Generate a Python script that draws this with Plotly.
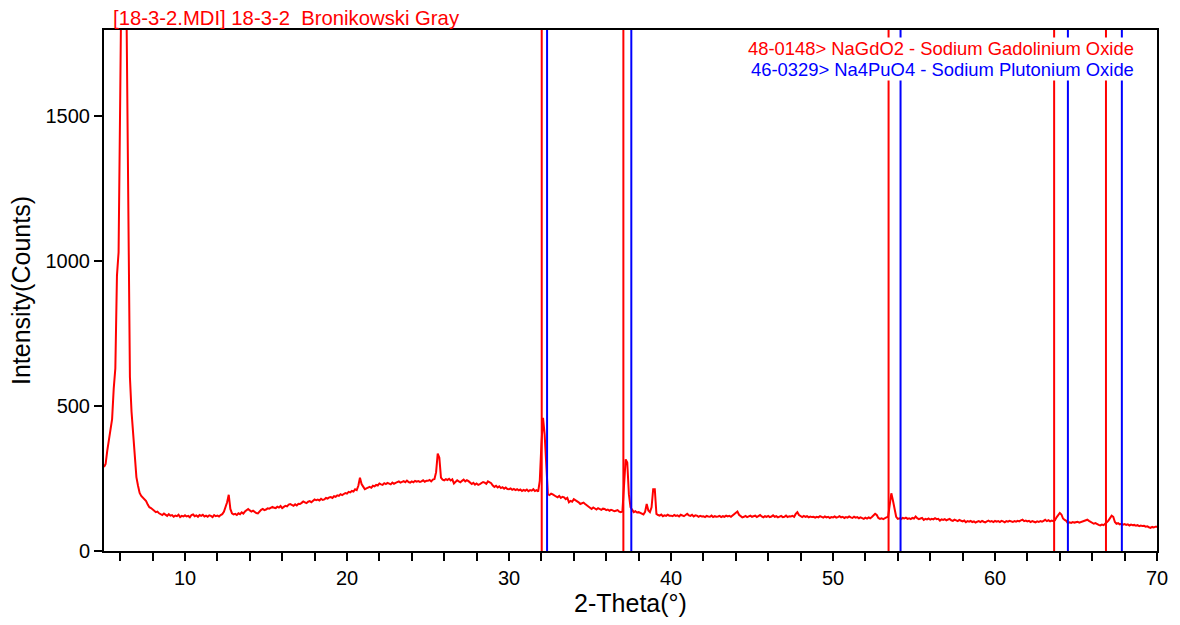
import numpy as np
import plotly.graph_objects as go

# Scan grid: 2-theta from 5.0 to 70.0 in 0.1 degree steps
two_theta_start = 5.0
two_theta_step = 0.1

# Intensity values, one row per degree (x.0 ... x.9)
counts = [
    290, 300, 345, 385, 410, 455, 560, 630, 950, 1030,      # 5
    1560, 2500, 2700, 2500, 1800, 1250, 600, 480, 400, 300,  # 6
    255, 225, 200, 190, 185, 178, 172, 160, 151, 148,        # 7
    142, 139, 134, 136, 130, 128, 124, 129, 126, 121,        # 8
    127, 122, 124, 118, 122, 120, 125, 117, 121, 119,        # 9
    123, 119, 121, 116, 124, 126, 120, 123, 118, 124,        # 10
    121, 125, 119, 122, 118, 123, 121, 117, 124, 120,        # 11
    122, 119, 124, 127, 135, 150, 168, 194, 145, 130,        # 12
    126, 128, 124, 130, 127, 133, 129, 136, 141, 145,        # 13
    140, 136, 139, 134, 131, 130, 137, 142, 145, 141,        # 14
    143, 147, 146, 150, 152, 149, 148, 153, 150, 155,        # 15
    148, 152, 156, 154, 160, 162, 158, 156, 161, 157,        # 16
    163, 162, 166, 171, 168, 165, 170, 172, 168, 174,        # 17
    178, 175, 177, 174, 180, 176, 178, 183, 181, 185,        # 18
    186, 183, 189, 187, 192, 190, 196, 193, 197, 200,        # 19
    198, 204, 202, 207, 205, 213, 210, 225, 253, 231,        # 20
    222, 213, 216, 219, 221, 218, 225, 223, 228, 226,        # 21
    233, 230, 228, 234, 231, 235, 233, 230, 236, 232,        # 22
    235, 238, 240, 236, 239, 241, 237, 243, 238, 236,        # 23
    240, 237, 242, 239, 241, 238, 240, 244, 239, 242,        # 24
    242, 245, 240, 246, 248, 272, 336, 322, 253, 246,        # 25
    244, 248, 245, 249, 243, 247, 233, 238, 244, 240,        # 26
    237, 242, 246, 240, 244, 241, 236, 231, 235, 229,        # 27
    233, 228, 231, 234, 238, 236, 232, 240, 237, 234,        # 28
    226, 221, 225, 219, 223, 217, 220, 215, 219, 214,        # 29
    213, 216, 211, 214, 210, 213, 209, 212, 207, 211,        # 30
    208, 212, 206, 210, 208, 213, 207, 210, 205, 242,        # 31
    368, 459, 402, 288, 196, 193, 198, 195, 190, 188,        # 32
    185, 190, 183, 187, 185, 179, 183, 168, 173, 170,        # 33
    179, 176, 172, 168, 162, 165, 167, 162, 158, 155,        # 34
    152, 145, 150, 147, 143, 148, 145, 142, 146, 145,        # 35
    141, 143, 139, 142, 140, 137, 139, 141, 136, 134,        # 36
    136, 253, 316, 305, 196, 151, 140, 134, 137, 133,        # 37
    134, 131, 128, 126, 135, 162, 140, 134, 151, 213,        # 38
    213, 128, 124, 122, 126, 120, 123, 121, 125, 122,        # 39
    122, 120, 124, 121, 123, 119, 125, 122, 120, 124,        # 40
    128, 123, 121, 125, 119, 123, 122, 118, 121, 119,        # 41
    120, 117, 121, 119, 118, 122, 117, 120, 118, 119,        # 42
    121, 117, 120, 118, 122, 119, 121, 118, 123, 128,        # 43
    133, 136, 125, 119, 116, 118, 121, 117, 119, 122,        # 44
    118, 120, 122, 117, 121, 124, 119, 116, 120, 118,        # 45
    121, 117, 119, 123, 118, 120, 116, 119, 121, 117,        # 46
    118, 122, 117, 120, 119, 121, 118, 128, 134, 124,        # 47
    119, 117, 121, 118, 120, 116, 119, 117, 118, 115,        # 48
    118, 116, 120, 117, 115, 119, 116, 118, 114, 117,        # 49
    116, 119, 115, 117, 120, 116, 118, 114, 117, 115,        # 50
    119, 116, 114, 118, 115, 117, 113, 116, 114, 111,        # 51
    115, 112, 116, 113, 117, 121, 128, 124, 114, 111,        # 52
    113, 110, 114, 116, 118, 151, 199, 174, 139, 118,        # 53
    111, 113, 110, 114, 112, 115, 111, 113, 110, 114,        # 54
    112, 119, 113, 110, 112, 114, 107, 111, 109, 112,        # 55
    108, 111, 109, 113, 110, 111, 105, 109, 107, 110,        # 56
    106, 109, 111, 106, 104, 108, 106, 103, 107, 105,        # 57
    102, 105, 99, 103, 101, 104, 100, 102, 98, 101,          # 58
    103, 100, 104, 101, 99, 102, 105, 101, 103, 100,         # 59
    104, 101, 103, 100, 104, 102, 99, 103, 101, 104,         # 60
    102, 100, 103, 101, 104, 102, 106, 108, 103, 105,        # 61
    102, 104, 100, 103, 101, 99, 102, 100, 103, 101,         # 62
    104, 108, 103, 106, 102, 105, 103, 106, 116, 124,        # 63
    131, 126, 112, 107, 104, 96, 99, 97, 100, 98,            # 64
    99, 101, 98, 100, 102, 104, 106, 108, 104, 101,          # 65
    97, 94, 96, 92, 90, 88, 91, 89, 93, 99,                  # 66
    105, 114, 122, 118, 100, 94, 96, 92, 94, 91,             # 67
    93, 90, 92, 88, 91, 89, 90, 87, 89, 86,                  # 68
    88, 86, 87, 84, 85, 82, 80, 83, 81, 84,                  # 69
    84,                                                      # 70
]

two_theta = np.round(two_theta_start + two_theta_step * np.arange(len(counts)), 2)

# Reference card peak positions (2-theta)
nagdo2_peaks = [32.02, 37.06, 53.43, 63.65, 66.85]
na4puo4_peaks = [32.35, 37.55, 54.17, 64.50, 67.83]

title_text = "[18-3-2.MDI] 18-3-2\u00a0\u00a0Bronikowski Gray"
card1_text = "48-0148> NaGdO2 - Sodium Gadolinium Oxide"
card2_text = "46-0329> Na4PuO4 - Sodium Plutonium Oxide"

x_major = [10, 20, 30, 40, 50, 60, 70]
y_major = [0, 500, 1000, 1500]

FONT = "Liberation Sans, Arial, sans-serif"
RED = "#ff0000"
BLUE = "#0000ff"

fig = go.Figure()
fig.add_trace(go.Scatter(
    x=two_theta, y=counts, mode="lines",
    line=dict(color=RED, width=2), showlegend=False, hoverinfo="skip",
))

shapes = []
for p in nagdo2_peaks:
    shapes.append(dict(type="line", xref="x", yref="paper", x0=p, x1=p, y0=0, y1=1,
                       line=dict(color=RED, width=2)))
for p in na4puo4_peaks:
    shapes.append(dict(type="line", xref="x", yref="paper", x0=p, x1=p, y0=0, y1=1,
                       line=dict(color=BLUE, width=2)))

annotations = [
    dict(text=title_text, xref="paper", yref="paper", x=0.0066, y=1.023,
         xanchor="left", yanchor="middle", showarrow=False,
         font=dict(family=FONT, size=20.3, color=RED)),
    dict(text=card1_text, xref="paper", yref="paper", x=0.979, y=0.9637,
         xanchor="right", yanchor="middle", showarrow=False, bgcolor="white", borderpad=0,
         font=dict(family=FONT, size=18.4, color=RED)),
    dict(text=card2_text, xref="paper", yref="paper", x=0.979, y=0.9235,
         xanchor="right", yanchor="middle", showarrow=False, bgcolor="white", borderpad=0,
         font=dict(family=FONT, size=18.4, color=BLUE)),
]

fig.update_layout(
    width=1180, height=625,
    margin=dict(l=104, r=20, t=30, b=72),
    paper_bgcolor="white", plot_bgcolor="white",
    shapes=shapes, annotations=annotations,
    font=dict(family=FONT, color="black"),
    xaxis=dict(
        range=[5, 70], tickvals=x_major, ticks="outside", ticklen=8, tickwidth=2,
        tickcolor="black", showline=True, linecolor="black", linewidth=2, mirror=True,
        showgrid=False, zeroline=False,
        minor=dict(dtick=2, tick0=0, ticks="outside", ticklen=8, tickwidth=2, tickcolor="black", showgrid=False),
        tickfont=dict(family=FONT, size=20, color="black"),
        title=dict(text="2-Theta(°)", font=dict(family=FONT, size=25, color="black"), standoff=6),
    ),
    yaxis=dict(
        range=[0, 1797], tickvals=y_major, ticks="outside", ticklen=8, tickwidth=2,
        tickcolor="black", showline=True, linecolor="black", linewidth=2, mirror=True,
        showgrid=False, zeroline=False,
        tickfont=dict(family=FONT, size=20, color="black"),
        title=dict(text="Intensity(Counts)", font=dict(family=FONT, size=25, color="black"), standoff=8),
    ),
)

fig.write_html("out.html")
